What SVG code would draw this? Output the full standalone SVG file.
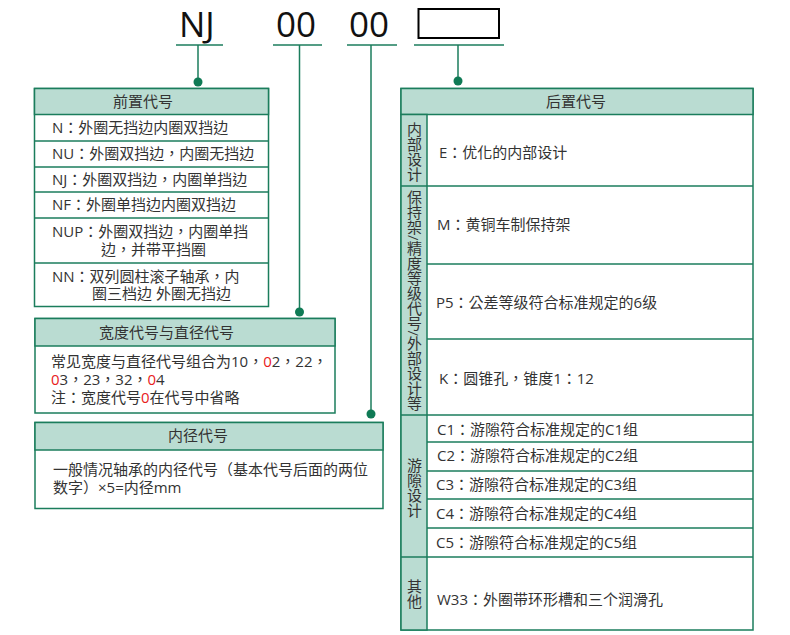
<svg xmlns="http://www.w3.org/2000/svg" width="790" height="635" viewBox="0 0 790 635">
<style>
text{font-family:"Open Sans","Noto Sans CJK TC",sans-serif;fill:#333;font-size:15px}
.big{font-size:35px;fill:#111}
.ln{stroke:#1b7d5c;stroke-width:1.5;fill:none}
.box{stroke:#1b7d5c;stroke-width:1.5;fill:#fff}
.hd{stroke:#1b7d5c;stroke-width:1.5;fill:#badcd2}
.dot{fill:#0f7a55}
.r{fill:#e8201c}
.mid{text-anchor:middle}
.vt{writing-mode:vertical-rl}
</style>
<rect width="790" height="635" fill="#fff"/>
<g id="code">
<text class="big" x="179" y="37">NJ</text>
<text class="big" x="276" y="37">00</text>
<text class="big" x="349" y="37">00</text>
<rect x="418.5" y="9" width="80.5" height="29" fill="none" stroke="#000" stroke-width="2"/>
</g>
<g id="connectors">
<line class="ln" x1="176" y1="45" x2="223" y2="45"/>
<line class="ln" x1="273" y1="45" x2="322" y2="45"/>
<line class="ln" x1="347" y1="45" x2="397" y2="45"/>
<line class="ln" x1="414" y1="45" x2="504" y2="45"/>
<line class="ln" x1="198" y1="45" x2="198" y2="82"/>
<line class="ln" x1="299.5" y1="45" x2="299.5" y2="312"/>
<line class="ln" x1="371" y1="45" x2="371" y2="414"/>
<line class="ln" x1="458" y1="45" x2="458" y2="81"/>
<circle class="dot" cx="198" cy="82" r="4.5"/>
<circle class="dot" cx="299.5" cy="312" r="4.5"/>
<circle class="dot" cx="371" cy="414" r="4.5"/>
<circle class="dot" cx="458" cy="81" r="4.5"/>
</g>
<g id="prefix">
<rect class="box" x="34.5" y="88.5" width="234" height="218"/>
<rect class="hd" x="34.5" y="88.5" width="234" height="26"/>
<line class="ln" x1="34.5" y1="141" x2="268.5" y2="141"/>
<line class="ln" x1="34.5" y1="167" x2="268.5" y2="167"/>
<line class="ln" x1="34.5" y1="192" x2="268.5" y2="192"/>
<line class="ln" x1="34.5" y1="218" x2="268.5" y2="218"/>
<line class="ln" x1="34.5" y1="263" x2="268.5" y2="263"/>
<text x="113" y="107">前置代号</text>
<text x="52" y="133">N：外圈无挡边内圈双挡边</text>
<text x="52" y="159">NU：外圈双挡边，内圈无挡边</text>
<text x="52" y="185">NJ：外圈双挡边，内圈单挡边</text>
<text x="52" y="210">NF：外圈单挡边内圈双挡边</text>
<text x="52" y="237">NUP：外圈双挡边，内圈单挡<tspan x="101" dy="18">边，并带平挡圈</tspan></text>
<text x="52" y="282">NN：双列圆柱滚子轴承，内<tspan x="92" dy="17">圈三档边 外圈无挡边</tspan></text>
</g>
<g id="width">
<rect class="box" x="35" y="318.5" width="300" height="94.5"/>
<rect class="hd" x="35" y="318.5" width="300" height="27.5"/>
<text x="99" y="338">宽度代号与直径代号</text>
<text x="51" y="367">常见宽度与直径代号组合为10，<tspan class="r">0</tspan>2，22，<tspan x="51" dy="18"><tspan class="r">0</tspan>3，23，32，<tspan class="r">0</tspan>4</tspan><tspan x="51" dy="18">注：宽度代号<tspan class="r">0</tspan>在代号中省略</tspan></text>
</g>
<g id="bore">
<rect class="box" x="35" y="422.5" width="348" height="86"/>
<rect class="hd" x="35" y="422.5" width="348" height="27.5"/>
<text x="168" y="441">内径代号</text>
<text x="53" y="475">一般情况轴承的内径代号（基本代号后面的两位<tspan x="53" dy="18">数字）×5=内径mm</tspan></text>
</g>
<g id="suffix">
<rect class="box" x="401" y="88.5" width="352" height="541.5"/>
<rect class="hd" x="401" y="88.5" width="352" height="26"/>
<rect class="hd" x="401" y="114.5" width="26" height="515.5"/>
<line class="ln" x1="401" y1="186" x2="753" y2="186"/>
<line class="ln" x1="427" y1="264" x2="753" y2="264"/>
<line class="ln" x1="427" y1="339" x2="753" y2="339"/>
<line class="ln" x1="401" y1="415" x2="753" y2="415"/>
<line class="ln" x1="427" y1="442" x2="753" y2="442"/>
<line class="ln" x1="427" y1="471" x2="753" y2="471"/>
<line class="ln" x1="427" y1="499" x2="753" y2="499"/>
<line class="ln" x1="427" y1="528" x2="753" y2="528"/>
<line class="ln" x1="401" y1="557" x2="753" y2="557"/>
<text class="mid" x="576" y="107">后置代号</text>
<text class="vt" x="414" y="122">内部设计</text>
<text class="vt" x="414" y="190">保持架/精度等级代号/外部设计等</text>
<text class="vt" x="414" y="458">游隙设计</text>
<text class="vt" x="414" y="579">其他</text>
<text x="439" y="158">E：优化的内部设计</text>
<text x="437" y="230">M：黄铜车制保持架</text>
<text x="436" y="308">P5：公差等级符合标准规定的6级</text>
<text x="439" y="384">K：圆锥孔，锥度1：12</text>
<text x="437" y="435">C1：游隙符合标准规定的C1组</text>
<text x="437" y="461">C2：游隙符合标准规定的C2组</text>
<text x="436" y="490">C3：游隙符合标准规定的C3组</text>
<text x="436" y="519">C4：游隙符合标准规定的C4组</text>
<text x="436" y="548">C5：游隙符合标准规定的C5组</text>
<text x="437" y="605">W33：外圈带环形槽和三个润滑孔</text>
</g>
</svg>
